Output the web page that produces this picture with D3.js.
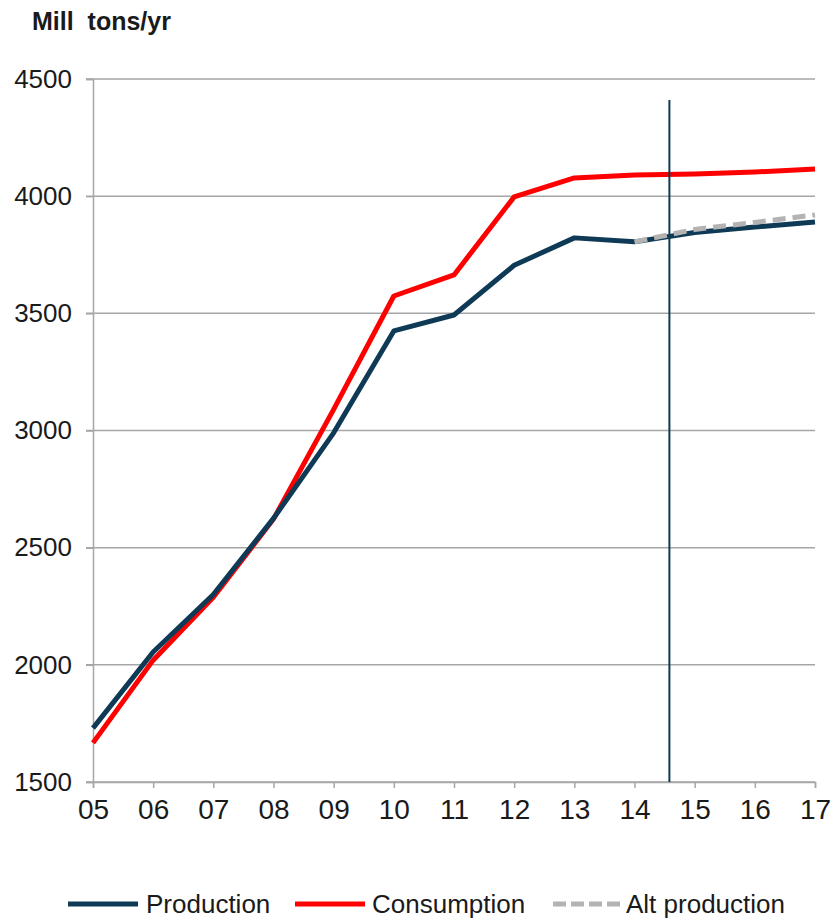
<!DOCTYPE html>
<html>
<head>
<meta charset="utf-8">
<script src="https://cdn.jsdelivr.net/npm/d3@7"></script>
<style>
  body { margin: 0; background: #fff; }
  text { font-family: "Liberation Sans", Arial, sans-serif; fill: #1a1a1a; }
</style>
</head>
<body>
<script>
// years on the x axis (05..17)
var years = [5, 6, 7, 8, 9, 10, 11, 12, 13, 14, 15, 16, 17];
var yearLabels = ["05", "06", "07", "08", "09", "10", "11", "12", "13", "14", "15", "16", "17"];
var production = [1730, 2055, 2300, 2625, 2990, 3425, 3493, 3705, 3822, 3805, 3845, 3868, 3890];
var consumption = [1667, 2020, 2288, 2622, 3090, 3574, 3664, 3997, 4078, 4090, 4095, 4103, 4116];
var altYears = [14, 15, 16, 17];
var altProduction = [3805, 3858, 3888, 3920];
var yTicks = [1500, 2000, 2500, 3000, 3500, 4000, 4500];
var cutoffYear = 14.58;
var cutoffTop = 4410;

var W = 836, H = 918;
var navy = "#0f3a55", red = "#ff0000", grey = "#b3b3b3";

var svg = d3.select("body").append("svg").attr("width", W).attr("height", H);

var x = d3.scaleLinear().domain([5, 17]).range([93, 815]);
var y = d3.scaleLinear().domain([1500, 4500]).range([782, 79]);

// title
svg.append("text").attr("x", 32).attr("y", 30)
    .style("font-size", "25px").style("font-weight", "bold")
    .text("Mill\u00a0 tons/yr");

// gridlines
svg.append("g").selectAll("line").data(yTicks).enter().append("line")
    .attr("x1", 86).attr("x2", x(17))
    .attr("y1", function (d) { return y(d); })
    .attr("y2", function (d) { return y(d); })
    .attr("stroke", "#a6a6a6").attr("stroke-width", 1.5);

// y axis
var yAxis = svg.append("g").attr("transform", "translate(" + x(5) + ",0)")
    .call(d3.axisLeft(y).tickValues(yTicks).tickSize(7).tickPadding(14).tickFormat(d3.format("d")));
yAxis.select(".domain").attr("stroke", "#a6a6a6").attr("stroke-width", 1.5);
yAxis.selectAll(".tick line").attr("stroke", "#a6a6a6").attr("stroke-width", 1.5);
yAxis.selectAll(".tick text").style("font-size", "26px").attr("fill", "#1a1a1a")
    .style("font-family", "'Liberation Sans', Arial, sans-serif");

// x axis
var xAxis = svg.append("g").attr("transform", "translate(0," + y(1500) + ")")
    .call(d3.axisBottom(x).tickValues(years).tickSize(6).tickPadding(11)
        .tickFormat(function (d, i) { return yearLabels[i]; }));
xAxis.select(".domain").attr("stroke", "#a6a6a6").attr("stroke-width", 1.5);
xAxis.selectAll(".tick line").attr("stroke", "#a6a6a6").attr("stroke-width", 1.5);
xAxis.selectAll(".tick text").style("font-size", "28px").attr("fill", "#1a1a1a")
    .style("font-family", "'Liberation Sans', Arial, sans-serif");

var line = d3.line()
    .x(function (d) { return x(d[0]); })
    .y(function (d) { return y(d[1]); });

// series
svg.append("path").datum(d3.zip(years, consumption)).attr("d", line)
    .attr("fill", "none").attr("stroke", red).attr("stroke-width", 5).attr("stroke-linejoin", "round");
svg.append("path").datum(d3.zip(years, production)).attr("d", line)
    .attr("fill", "none").attr("stroke", navy).attr("stroke-width", 5).attr("stroke-linejoin", "round");
svg.append("path").datum(d3.zip(altYears, altProduction)).attr("d", line)
    .attr("fill", "none").attr("stroke", grey).attr("stroke-width", 5)
    .attr("stroke-dasharray", "13,7");

// forecast divider
svg.append("line")
    .attr("x1", x(cutoffYear)).attr("x2", x(cutoffYear))
    .attr("y1", y(cutoffTop)).attr("y2", y(1500))
    .attr("stroke", navy).attr("stroke-width", 2);

// legend
var legendItems = [
    { name: "Production", color: navy, dash: null, x0: 68, x1: 138, tx: 146 },
    { name: "Consumption", color: red, dash: null, x0: 295, x1: 365, tx: 372 },
    { name: "Alt production", color: grey, dash: "13,5", x0: 553, x1: 622, tx: 626 }
];
var lg = svg.append("g").selectAll("g").data(legendItems).enter().append("g");
lg.append("line")
    .attr("x1", function (d) { return d.x0; }).attr("x2", function (d) { return d.x1; })
    .attr("y1", 904).attr("y2", 904)
    .attr("stroke", function (d) { return d.color; }).attr("stroke-width", 5)
    .attr("stroke-dasharray", function (d) { return d.dash; });
lg.append("text")
    .attr("x", function (d) { return d.tx; }).attr("y", 913)
    .style("font-size", "26px")
    .text(function (d) { return d.name; });
</script>
</body>
</html>
